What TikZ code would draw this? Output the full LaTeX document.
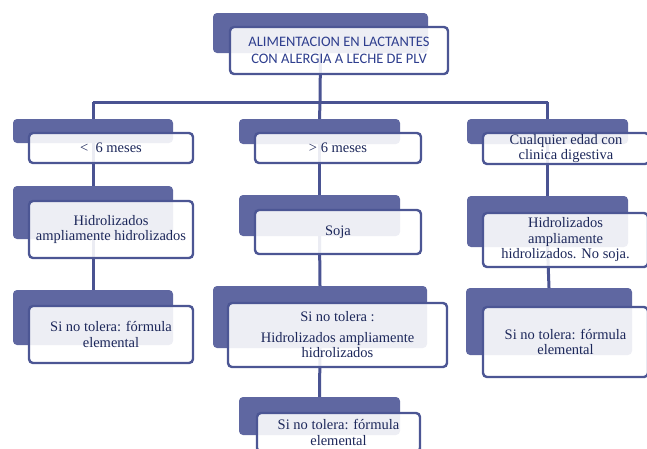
\documentclass[tikz,border=0pt]{standalone}
\usepackage{fontspec}
\setmainfont{Liberation Serif}
\newfontfamily\titlefont{Carlito}
\definecolor{backc}{HTML}{5F67A1}
\definecolor{edgec}{HTML}{4C5694}
\definecolor{linec}{HTML}{4A5392}
\definecolor{txtc}{HTML}{1C275A}
\definecolor{titc}{HTML}{2E3E8E}
\begin{document}
\begin{tikzpicture}[x=1pt,y=-1pt,
  backbox/.style={fill=backc, draw=none, rounded corners=4pt, inner sep=0pt},
  frontbox/.style={draw=edgec, line width=2.4pt, fill=white, fill opacity=0.89, text opacity=1,
     rounded corners=4pt, inner sep=0pt, align=center, text=txtc,
     font=\fontsize{14.5}{15.5}\selectfont},
  conn/.style={draw=linec, line width=3pt}]
\useasboundingbox (0,0) rectangle (647,448);
\clip (0,0) rectangle (647,448);
% junctions
\coordinate (j1) at (93,102);
\coordinate (j2) at (320,102);
\coordinate (j3) at (547.5,102);
% back boxes
\node[backbox, minimum width=215pt, minimum height=40pt] (b0) at (320.5,33) {};
\node[backbox, minimum width=160pt, minimum height=24pt] (b11) at (93,131) {};
\node[backbox, minimum width=160pt, minimum height=53pt] (b12) at (93,212.5) {};
\node[backbox, minimum width=160pt, minimum height=55pt] (b13) at (93,317.5) {};
\node[backbox, minimum width=161pt, minimum height=25pt] (b21) at (319.5,131.5) {};
\node[backbox, minimum width=161pt, minimum height=41pt] (b22) at (319.5,215.5) {};
\node[backbox, minimum width=214pt, minimum height=62pt] (b23) at (320,317) {};
\node[backbox, minimum width=161pt, minimum height=38pt] (b24) at (319.5,416) {};
\node[backbox, minimum width=161pt, minimum height=25pt] (b31) at (547.5,131.5) {};
\node[backbox, minimum width=161pt, minimum height=51pt] (b32) at (547.5,221.5) {};
\node[backbox, minimum width=166pt, minimum height=67pt] (b33) at (549,321.5) {};
% connectors
\path[conn] (b0.south) -- (j2);
\path[conn] (j1) -- (j3);
\path[conn] (j1) -- (b11.north);
\path[conn] (b11.south) -- (b12.north);
\path[conn] (b12.south) -- (b13.north);
\path[conn] (j2) -- (b21.north);
\path[conn] (b21.south) -- (b22.north);
\path[conn] (b22.south) -- (b23.north);
\path[conn] (b23.south) -- (b24.north);
\path[conn] (j3) -- (b31.north);
\path[conn] (b31.south) -- (b32.north);
\path[conn] (b32.south) -- (b33.north);
% front boxes
\node[frontbox, minimum width=218pt, minimum height=47pt, text=titc, font=\titlefont\fontsize{14.5}{17.5}\selectfont] (f0) at (339,50.5)
  {ALIMENTACION EN LACTANTES\\CON ALERGIA A LECHE DE PLV};
\node[frontbox, minimum width=164pt, minimum height=30pt] (f11) at (111,148) {<\ \ 6 meses};
\node[frontbox, minimum width=164pt, minimum height=57pt] (f12) at (111,229.5) {Hidrolizados\\ampliamente hidrolizados};
\node[frontbox, minimum width=164pt, minimum height=57pt] (f13) at (111,334.5) {Si no tolera: fórmula\\elemental};
\node[frontbox, minimum width=166pt, minimum height=30pt] (f21) at (338,148) {> 6 meses};
\node[frontbox, minimum width=166pt, minimum height=44pt] (f22) at (338,232) {Soja};
\node[frontbox, minimum width=219pt, minimum height=64pt] (f23) at (337.5,335) {Si no tolera :\\[5pt]Hidrolizados ampliamente\\hidrolizados};
\node[frontbox, minimum width=163pt, minimum height=39pt] (f24) at (338.5,432.5) {Si no tolera: fórmula\\elemental};
\node[frontbox, minimum width=166pt, minimum height=31pt] (f31) at (566,148.5) {Cualquier edad con\\clinica digestiva};
\node[frontbox, minimum width=165pt, minimum height=54pt] (f32) at (565.5,240) {Hidrolizados\\ampliamente\\hidrolizados. No soja.};
\node[frontbox, minimum width=165pt, minimum height=70pt] (f33) at (565.5,342) {Si no tolera: fórmula\\elemental};
\end{tikzpicture}
\end{document}
